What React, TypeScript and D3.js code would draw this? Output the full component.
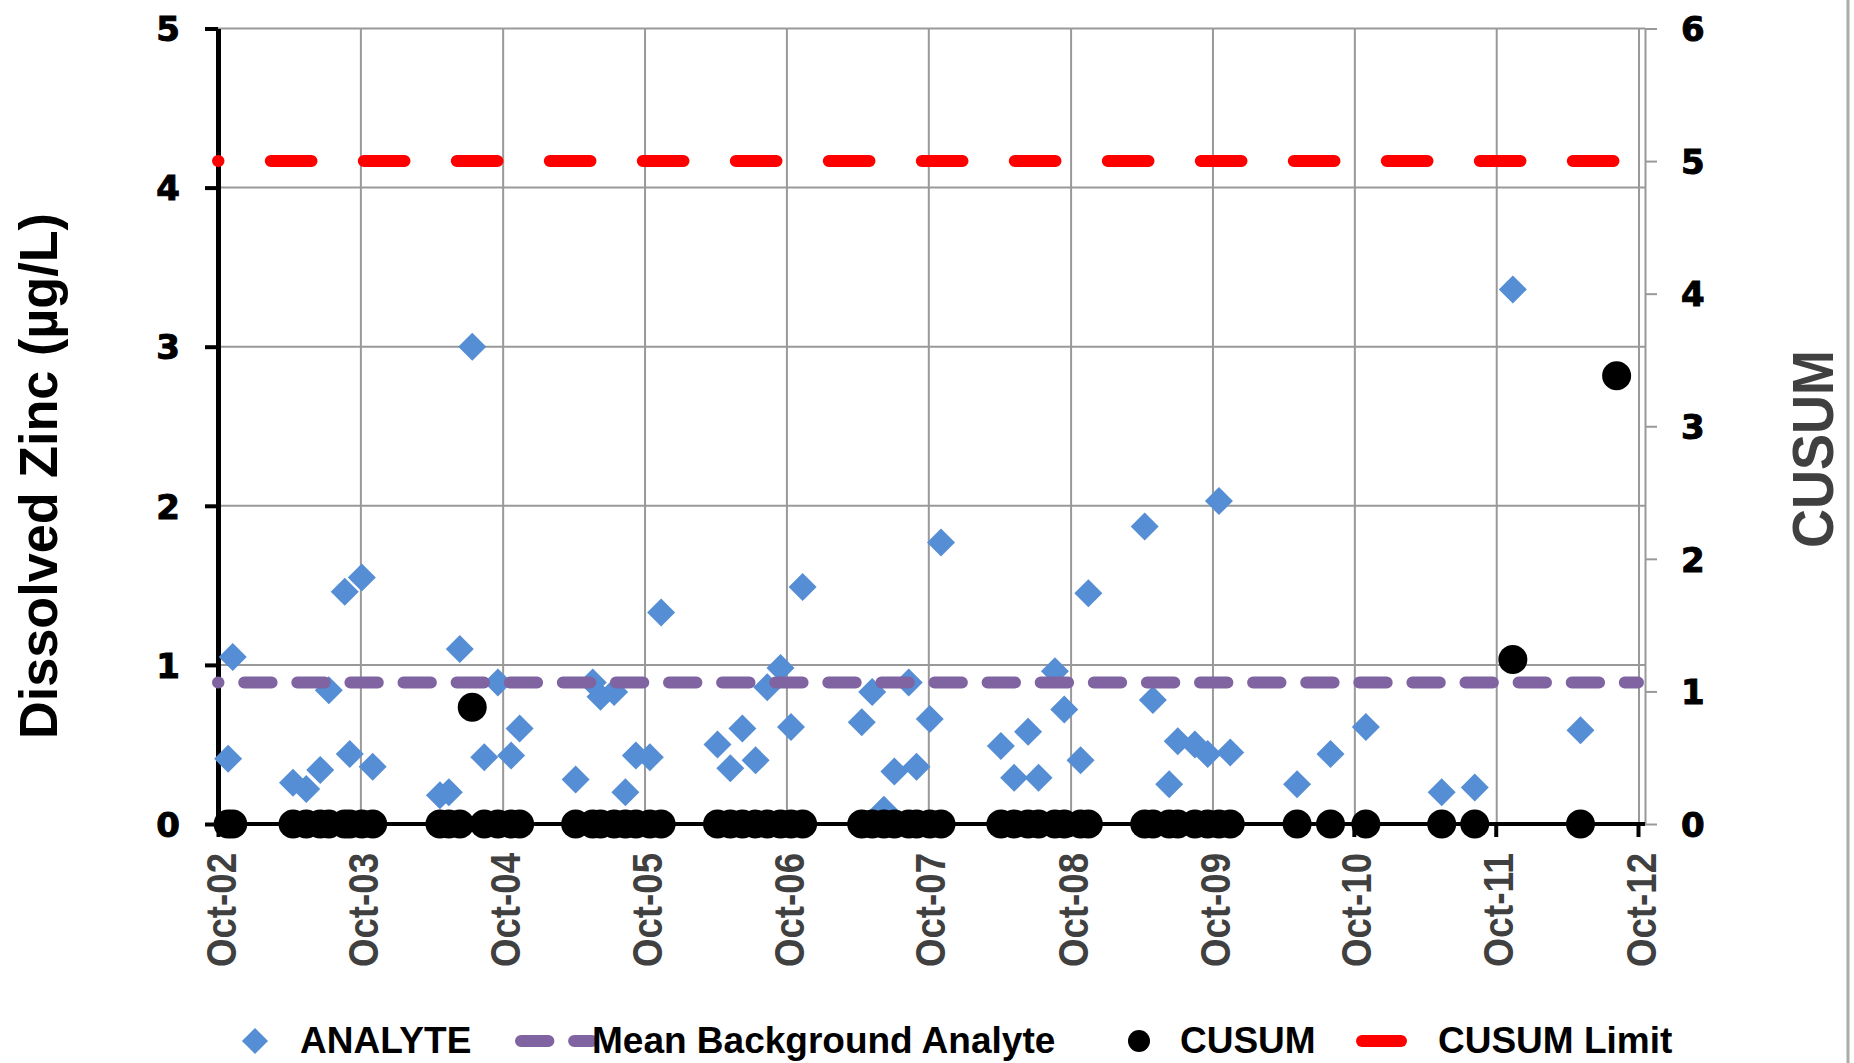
import React, { useEffect, useRef } from 'react';
import * as d3 from 'd3';

// sample dates
const sampleDates = [
  '2002-10-27', '2002-11-08', '2003-04-12', '2003-05-16', '2003-06-21', '2003-07-13', '2003-08-23', '2003-09-05', '2003-10-06', '2003-11-03',
  '2004-04-24', '2004-05-17', '2004-06-14', '2004-07-16', '2004-08-16', '2004-09-20', '2004-10-24', '2004-11-15',
  '2005-04-08', '2005-05-22', '2005-06-11', '2005-07-16', '2005-08-14', '2005-09-10', '2005-10-16', '2005-11-14',
  '2006-04-08', '2006-05-11', '2006-06-11', '2006-07-15', '2006-08-14', '2006-09-17', '2006-10-14', '2006-11-13',
  '2007-04-14', '2007-05-11', '2007-06-10', '2007-07-07', '2007-08-13', '2007-09-02', '2007-10-06', '2007-11-04',
  '2008-04-06', '2008-05-10', '2008-06-15', '2008-07-12', '2008-08-23', '2008-09-16', '2008-10-28', '2008-11-17',
  '2009-04-11', '2009-05-02', '2009-06-13', '2009-07-05', '2009-08-18', '2009-09-20', '2009-10-19', '2009-11-17',
  '2010-05-08', '2010-08-02', '2010-11-01', '2011-05-15', '2011-08-08', '2011-11-14', '2012-05-06', '2012-08-07',
];

// dissolved zinc, ug/L (last one is off the chart)
const analyte = [
  0.41, 1.05, 0.26, 0.22, 0.34, 0.84, 1.46, 0.44, 1.55, 0.36,
  0.18, 0.2, 1.1, 3.0, 0.42, 0.89, 0.43, 0.6,
  0.28, 0.89, 0.8, 0.83, 0.2, 0.43, 0.42, 1.33,
  0.5, 0.35, 0.6, 0.4, 0.86, 0.98, 0.61, 1.49,
  0.64, 0.83, 0.09, 0.33, 0.89, 0.36, 0.66, 1.77,
  0.49, 0.29, 0.58, 0.29, 0.96, 0.72, 0.4, 1.45,
  1.87, 0.78, 0.25, 0.52, 0.5, 0.44, 2.03, 0.45,
  0.25, 0.44, 0.61, 0.2, 0.23, 3.36, 0.59, null,
];

const cusum = [
  0, 0, 0, 0, 0, 0, 0, 0, 0, 0,
  0, 0, 0, 0.88, 0, 0, 0, 0,
  0, 0, 0, 0, 0, 0, 0, 0,
  0, 0, 0, 0, 0, 0, 0, 0,
  0, 0, 0, 0, 0, 0, 0, 0,
  0, 0, 0, 0, 0, 0, 0, 0,
  0, 0, 0, 0, 0, 0, 0, 0,
  0, 0, 0, 0, 0, 1.24, 0, 3.38,
];

const meanBackground = 0.89;
const cusumLimit = 5;

const leftTicks = [0, 1, 2, 3, 4, 5];
const rightTicks = [0, 1, 2, 3, 4, 5, 6];
const yearTicks = [
  '2002-10-01', '2003-10-01', '2004-10-01', '2005-10-01', '2006-10-01', '2007-10-01',
  '2008-10-01', '2009-10-01', '2010-10-01', '2011-10-01', '2012-10-01',
];

const W = 1854;
const H = 1063;
const BOLD_NARROW = "'Liberation Sans Narrow', 'Liberation Sans', Arial, sans-serif";

const App = () => {
  const svgRef = useRef(null);

  useEffect(() => {
    const svg = d3.select(svgRef.current);
    svg.selectAll('*').remove();

    const parse = d3.timeParse('%Y-%m-%d');
    const years = yearTicks.map(parse);
    const x = d3.scaleTime().domain([years[0], years[years.length - 1]]).range([218, 1638]);
    const yL = d3.scaleLinear().domain([0, 5]).range([824, 28.5]);
    const yR = d3.scaleLinear().domain([0, 6]).range([824, 28.5]);
    const xEnd = 1645; // right axis position

    const data = sampleDates.map((d, i) => ({ date: parse(d), analyte: analyte[i], cusum: cusum[i] }));

    // gridlines
    svg
      .append('g')
      .selectAll('line')
      .data(leftTicks.filter((d) => d > 0))
      .join('line')
      .attr('x1', x.range()[0])
      .attr('x2', xEnd)
      .attr('y1', (d) => yL(d))
      .attr('y2', (d) => yL(d))
      .attr('stroke', '#999')
      .attr('stroke-width', 2);

    svg
      .append('g')
      .selectAll('line')
      .data(years.slice(1))
      .join('line')
      .attr('x1', (d) => x(d) + 1)
      .attr('x2', (d) => x(d) + 1)
      .attr('y1', yL(5))
      .attr('y2', yL(0))
      .attr('stroke', '#999')
      .attr('stroke-width', 2);

    // left axis
    const left = svg
      .append('g')
      .attr('transform', `translate(${x.range()[0]},0)`)
      .call(d3.axisLeft(yL).tickValues(leftTicks).tickSize(13).tickSizeOuter(0).tickPadding(25).tickFormat(d3.format('d')));
    left.select('.domain').attr('stroke', '#000').attr('stroke-width', 5);
    left.selectAll('.tick line').attr('stroke', '#000').attr('stroke-width', 4);
    left
      .attr('font-family', "'DejaVu Sans', sans-serif")
      .attr('font-size', 34)
      .attr('font-weight', 'bold')
      .selectAll('text')
      .attr('fill', '#000')
      .attr('stroke', '#000')
      .attr('stroke-width', 1)
      .attr('dy', '0.36em');

    // right axis
    const right = svg
      .append('g')
      .attr('transform', `translate(${xEnd},0)`)
      .call(d3.axisRight(yR).tickValues(rightTicks).tickSize(12).tickSizeOuter(0).tickPadding(24).tickFormat(d3.format('d')));
    right.select('.domain').attr('stroke', '#999').attr('stroke-width', 2);
    right.selectAll('.tick line').attr('stroke', '#999').attr('stroke-width', 2);
    right
      .attr('font-family', "'DejaVu Sans', sans-serif")
      .attr('font-size', 34)
      .attr('font-weight', 'bold')
      .selectAll('text')
      .attr('fill', '#000')
      .attr('stroke', '#000')
      .attr('stroke-width', 1)
      .attr('dy', '0.36em');

    // bottom axis
    const bottom = svg
      .append('g')
      .attr('transform', `translate(0,${yL(0)})`)
      .call(d3.axisBottom(x).tickValues(years).tickSize(13).tickSizeOuter(0).tickFormat(d3.timeFormat('%b-%y')));
    bottom.select('.domain').remove();
    bottom.selectAll('.tick line').attr('stroke', '#000').attr('stroke-width', 4);
    bottom
      .attr('font-family', BOLD_NARROW)
      .attr('font-size', 42)
      .attr('font-weight', 'bold')
      .selectAll('text')
      .attr('fill', '#404040')
      .attr('transform', 'rotate(-90)')
      .attr('x', -29)
      .attr('y', 2)
      .attr('dy', '0.36em')
      .attr('text-anchor', 'end')
      .attr('textLength', 114)
      .attr('lengthAdjust', 'spacingAndGlyphs');

    svg
      .append('line')
      .attr('x1', x.range()[0])
      .attr('x2', xEnd)
      .attr('y1', yL(0))
      .attr('y2', yL(0))
      .attr('stroke', '#000')
      .attr('stroke-width', 4);

    // axis titles
    svg
      .append('text')
      .attr('transform', 'translate(57,476) rotate(-90)')
      .attr('text-anchor', 'middle')
      .attr('font-family', BOLD_NARROW)
      .attr('font-weight', 'bold')
      .attr('font-size', 54)
      .attr('textLength', 526)
      .attr('lengthAdjust', 'spacingAndGlyphs')
      .attr('fill', '#000')
      .text('Dissolved Zinc (µg/L)');

    svg
      .append('text')
      .attr('transform', 'translate(1833,449) rotate(-90)')
      .attr('text-anchor', 'middle')
      .attr('font-family', BOLD_NARROW)
      .attr('font-weight', 'bold')
      .attr('font-size', 57)
      .attr('textLength', 198)
      .attr('lengthAdjust', 'spacingAndGlyphs')
      .attr('fill', '#404040')
      .text('CUSUM');

    // analyte diamonds
    const diamond = d3.symbol(d3.symbolSquare, 392);
    svg
      .append('g')
      .selectAll('path')
      .data(data.filter((d) => d.analyte != null))
      .join('path')
      .attr('d', diamond)
      .attr('transform', (d) => `translate(${x(d.date)},${yL(d.analyte)}) rotate(45)`)
      .attr('fill', '#558ED5');

    // mean background line
    const line = d3.line();
    svg
      .append('path')
      .attr('d', line([[x.range()[0], yL(meanBackground)], [x.range()[1], yL(meanBackground)]]))
      .attr('stroke', '#8064A2')
      .attr('stroke-width', 12)
      .attr('stroke-linecap', 'round')
      .attr('stroke-dasharray', '27.4 25.7')
      .attr('stroke-dashoffset', 26.9)
      .attr('fill', 'none');

    // cusum points
    svg
      .append('g')
      .selectAll('circle')
      .data(data)
      .join('circle')
      .attr('cx', (d) => x(d.date))
      .attr('cy', (d) => yR(d.cusum))
      .attr('r', 14.5)
      .attr('fill', '#000');

    // cusum limit
    svg
      .append('path')
      .attr('d', line([[x.range()[0], yR(cusumLimit)], [x.range()[1], yR(cusumLimit)]]))
      .attr('stroke', '#FF0000')
      .attr('stroke-width', 12)
      .attr('stroke-linecap', 'round')
      .attr('stroke-dasharray', '40.7 52.3')
      .attr('stroke-dashoffset', 40.2)
      .attr('fill', 'none');

    // legend
    const ly = 1041;
    const lg = svg.append('g').attr('font-family', "'Liberation Sans', Arial, sans-serif").attr('font-weight', 'bold').attr('font-size', 37);
    lg.append('path').attr('d', d3.symbol(d3.symbolSquare, 340)).attr('transform', `translate(255,${ly}) rotate(45)`).attr('fill', '#558ED5');
    lg.append('text').attr('x', 300).attr('y', ly + 12).text('ANALYTE');
    lg.append('line')
      .attr('x1', 521)
      .attr('x2', 592)
      .attr('y1', ly)
      .attr('y2', ly)
      .attr('stroke', '#8064A2')
      .attr('stroke-width', 12)
      .attr('stroke-linecap', 'round')
      .attr('stroke-dasharray', '27.4 25.7');
    lg.append('text').attr('x', 592).attr('y', ly + 12).text('Mean Background Analyte');
    lg.append('circle').attr('cx', 1139).attr('cy', ly).attr('r', 11).attr('fill', '#000');
    lg.append('text').attr('x', 1180).attr('y', ly + 12).text('CUSUM');
    lg.append('line')
      .attr('x1', 1362)
      .attr('x2', 1401)
      .attr('y1', ly)
      .attr('y2', ly)
      .attr('stroke', '#FF0000')
      .attr('stroke-width', 12)
      .attr('stroke-linecap', 'round');
    lg.append('text').attr('x', 1438).attr('y', ly + 12).text('CUSUM Limit');

    // frame edge on the right
    svg.append('line').attr('x1', 1848).attr('x2', 1848).attr('y1', 0).attr('y2', H).attr('stroke', '#a6aea6').attr('stroke-width', 3);
  }, []);

  return <svg ref={svgRef} width={W} height={H} style={{ position: 'absolute', left: 0, top: 0, background: '#fff' }}></svg>;
};

export default App;
